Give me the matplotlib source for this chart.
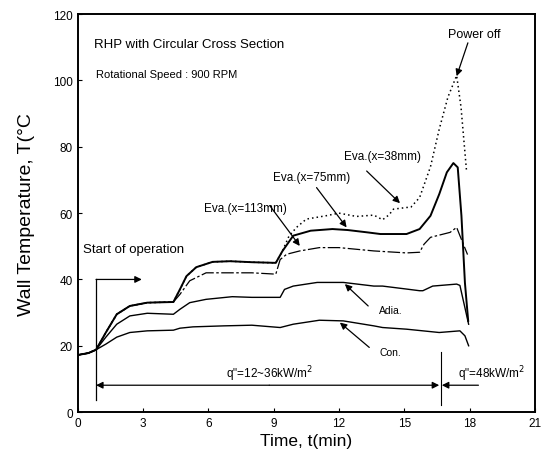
import numpy as np
import matplotlib
matplotlib.use('Agg')
import matplotlib.pyplot as plt

plt.rcParams['font.family'] = ['Liberation Sans', 'DejaVu Sans']

# Eva.(x=38mm) - dotted
t_38 = [0, 0.5, 0.85, 1.3, 1.8, 2.4, 3.2, 4.4, 4.7, 5.0, 5.45, 6.2, 7.0, 8.0, 9.1, 9.4, 9.7,
        10.05, 10.5, 11.4, 12.0, 12.8, 13.6, 14.0, 14.3, 14.5, 15.1, 15.3, 15.7, 16.2, 16.6,
        17.0, 17.4, 17.6, 17.85]
T_38 = [17.2, 17.8, 18.8, 24, 29.5, 32, 33, 33.2, 37, 41, 43.7, 45.3, 45.5, 45.2, 45, 48.5, 53,
        55.7, 58.2, 59.2, 60, 59, 59.4, 58, 59.5, 61.2, 61.7, 61.8, 64.7, 74, 85.3,
        95, 101.5, 92, 73]

# Eva.(x=75mm) - solid
t_75 = [0, 0.5, 0.85, 1.3, 1.8, 2.4, 3.2, 4.4, 4.7, 5.0, 5.45, 6.2, 7.0, 8.0, 9.1, 9.4, 9.9,
        10.7, 11.7, 12.4, 13.3, 13.9, 15.1, 15.7, 16.2, 16.6, 16.95, 17.25, 17.45, 17.62,
        17.78, 17.93]
T_75 = [17.2, 17.8, 18.8, 24, 29.5, 32, 33, 33.2, 37, 41, 43.7, 45.3, 45.5, 45.2, 45, 48.5, 53.2,
        54.7, 55.2, 54.9, 54.2, 53.7, 53.7, 55.2, 59.2, 65.7, 72.3, 75.1, 73.8, 59.2,
        39, 27.5]

# Eva.(x=113mm) - dash-dot
t_113 = [0, 0.5, 0.85, 1.3, 1.8, 2.4, 3.2, 4.4, 4.7, 5.15, 5.9, 7.0, 8.0, 9.1, 9.3, 9.6, 10.2,
         11.1, 12.0, 13.6, 15.1, 15.7, 15.9, 16.2, 17.1, 17.4, 17.55, 17.9]
T_113 = [17.2, 17.8, 18.8, 24, 29.5, 32, 33, 33.2, 35.5, 39.6, 42, 42, 42, 41.6, 46, 47.6, 48.6,
         49.6, 49.6, 48.6, 48, 48.2, 50.6, 52.7, 54.2, 55.7, 53.2, 47.5]

# Adia.
t_adia = [0, 0.5, 0.85, 1.3, 1.8, 2.4, 3.2, 4.4, 4.7, 5.15, 5.9, 7.1, 8.0, 9.3, 9.5, 9.9, 11.0,
          12.2, 13.6, 14.0, 15.1, 15.7, 15.85, 16.3, 17.4, 17.55, 17.95]
T_adia = [17.2, 17.8, 18.8, 22.6, 26.5, 29, 29.8, 29.5, 31, 33, 34, 34.8, 34.6, 34.6, 37, 38, 39.1,
          39.1, 38, 38, 37.1, 36.6, 36.6, 38, 38.6, 38.2, 26.5]

# Con.
t_con = [0, 0.5, 0.85, 1.3, 1.8, 2.4, 3.2, 4.4, 4.7, 5.3, 6.7, 8.0, 9.3, 9.9, 11.1, 12.2, 13.6,
         14.0, 15.1, 16.6, 17.55, 17.78, 17.95]
T_con = [17.2, 17.8, 18.8, 20.5, 22.6, 24, 24.5, 24.7, 25.3, 25.7, 26, 26.2, 25.5, 26.5, 27.7,
         27.5, 26, 25.5, 25, 24, 24.5, 23, 20]

fig = plt.figure(figsize=(5.46, 4.60), dpi=100)
ax = fig.add_axes([0.142, 0.102, 0.838, 0.865])

ax.plot(t_75, T_75, color='k', lw=1.4)
ax.plot(t_38, T_38, color='k', lw=1.1, ls=(0, (1, 2)))
ax.plot(t_113, T_113, color='k', lw=0.9, ls=(0, (10, 2, 2, 2)))
ax.plot(t_adia, T_adia, color='k', lw=1.0)
ax.plot(t_con, T_con, color='k', lw=1.0)

ax.set_xlim(0, 21)
ax.set_ylim(0, 120)
ax.set_xticks(np.arange(0, 22, 3))
ax.set_yticks(np.arange(0, 121, 20))
ax.tick_params(direction='in', length=3, labelsize=8.5)
for s in ax.spines.values():
    s.set_linewidth(1.4)
ax.set_xlabel('Time, t(min)', fontsize=12.5, labelpad=3)
ax.set_ylabel('Wall Temperature, T(°C', fontsize=14, labelpad=13)

ax.text(0.75, 111, 'RHP with Circular Cross Section', fontsize=9.5, va='center')
ax.text(0.85, 102, 'Rotational Speed : 900 RPM', fontsize=8, va='center')

ap = dict(arrowstyle='-|>', color='k', lw=0.9, mutation_scale=10, shrinkA=0, shrinkB=0)
ax.annotate('Power off', xy=(17.4, 101.3), xytext=(18.2, 114), fontsize=9, ha='center', va='center',
            arrowprops=dict(ap, relpos=(0.4, 0.0)))
ax.annotate('', xy=(14.8, 63), xytext=(13.27, 72.7), arrowprops=ap)
ax.text(14.0, 77.2, 'Eva.(x=38mm)', fontsize=8.5, ha='center', va='center')
ax.annotate('', xy=(12.35, 55.7), xytext=(10.97, 67.7), arrowprops=ap)
ax.text(10.76, 71, 'Eva.(x=75mm)', fontsize=8.5, ha='center', va='center')
ax.annotate('', xy=(10.2, 50.1), xytext=(8.83, 62.2), arrowprops=ap)
ax.text(7.7, 61.5, 'Eva.(x=113mm)', fontsize=8.5, ha='center', va='center')
ax.annotate('', xy=(12.27, 38.6), xytext=(13.34, 32), arrowprops=ap)
ax.text(14.36, 30.8, 'Adia.', fontsize=7.5, ha='center', va='center')
ax.annotate('', xy=(12.04, 27), xytext=(13.39, 19.5), arrowprops=ap)
ax.text(14.35, 18.2, 'Con.', fontsize=7.5, ha='center', va='center')

# start of operation
ax.text(0.25, 49.1, 'Start of operation', fontsize=9.5, va='center')
ax.plot([0.85, 0.85], [3.5, 40], color='k', lw=0.9)
ax.annotate('', xy=(2.95, 40), xytext=(0.85, 40), arrowprops=ap)

# heat flux ranges
ax.plot([16.66, 16.66], [2, 18], color='k', lw=0.8)
ax.annotate('', xy=(0.85, 8.1), xytext=(8.8, 8.1), arrowprops=ap)
ax.annotate('', xy=(16.6, 8.1), xytext=(8.8, 8.1), arrowprops=ap)
ax.annotate('', xy=(16.72, 8.1), xytext=(18.4, 8.1), arrowprops=ap)
ax.text(8.8, 11.8, 'q"=12~36kW/m$^2$', fontsize=8.5, ha='center', va='center')
ax.text(19.0, 11.8, 'q"=48kW/m$^2$', fontsize=8.5, ha='center', va='center')

plt.savefig('out.png', dpi=100)
